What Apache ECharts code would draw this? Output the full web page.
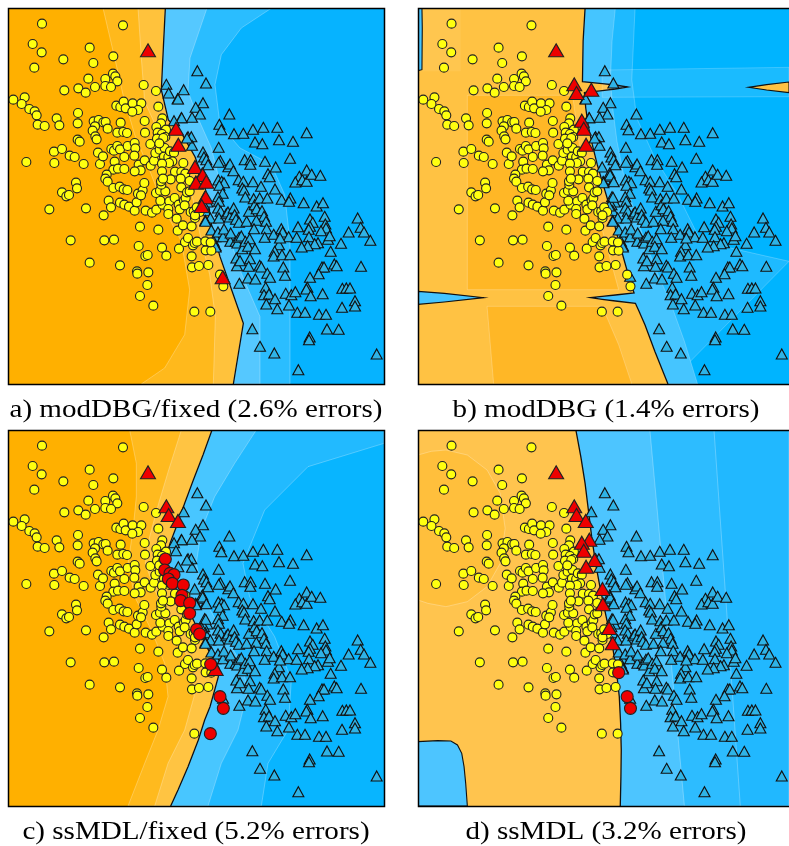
<!DOCTYPE html>
<html>
<head>
<meta charset="utf-8">
<script src="https://cdn.jsdelivr.net/npm/echarts/dist/echarts.min.js"></script>
<style>
html,body{margin:0;padding:0;background:#fff}
#chart{width:789px;height:846px}
</style>
</head>
<body>
<div id="chart"></div>
<script>
// ---------------- samples (feature space 0..1128, second feature grows downward) ----------------
const circles = [
[102,47],[345,52],[74,108],[101,133],[245,119],[166,154],[316,145],[79,179],[256,165],[315,197],[322,205],[241,212],[292,213],[328,220],[292,234],[309,237],[261,237],[211,241],[169,247],[233,254],[407,231],[444,249],
[16,275],[50,268],[41,288],[64,303],[80,310],[86,322],[146,331],[210,315],[154,352],[89,350],[110,354],[209,346],
[325,293],[337,297],[347,281],[353,301],[374,286],[400,286],[390,306],[373,311],[451,296],
[257,340],[272,336],[286,343],[293,342],[261,355],[299,362],[254,368],[262,385],[266,394],[338,344],[328,374],[346,372],[357,375],[410,339],[463,331],[459,346],[445,357],[411,374],[449,374],[474,365],[462,378],[472,387],
[209,395],[215,401],[138,431],[162,423],[185,443],[200,447],[139,465],[227,468],[55,462],[276,468],[270,434],[285,445],[310,423],[318,428],[328,414],[336,424],[359,414],[380,405],[382,421],[379,443],[349,447],[320,461],[316,485],[330,482],[349,483],[296,500],[292,512],[299,521],[392,470],[410,457],[398,487],[380,490],[428,473],[438,458],[427,408],[447,392],[466,390],[442,435],[455,425],[470,420],[468,446],[481,447],[486,430],[498,434],[493,460],[483,465],[462,467],[462,490],[501,491],[520,492],[526,465],[532,497],[488,514],[454,406],[518,512],
[204,524],[207,541],[162,553],[175,565],[183,561],[124,604],[234,601],[302,578],[309,598],[287,622],[316,540],[335,536],[347,544],[358,546],[336,584],[349,590],[363,596],[380,608],[386,583],[390,557],[404,547],[399,562],[409,525],[413,608],[432,614],[445,605],[464,590],[457,578],[444,555],[456,548],[472,550],[460,530],[459,520],[465,512],[484,580],[481,603],[481,618],[500,570],[506,632],[512,590],[515,604],[520,538],[528,578],[533,570],[530,592],[537,553],[545,550],[545,519],[548,612],[557,610],[561,630],[566,598],[575,612],[561,622],
[396,656],[451,665],[509,668],[525,652],[551,655],[188,697],[289,697],[318,695],[245,764],[336,772],[392,714],[412,744],[419,741],[462,719],[475,743],[513,722],[531,702],[540,690],[555,712],[560,705],[567,701],[551,745],[552,778],[573,774],[601,771],[593,727],[610,728],[592,700],[608,703],[387,790],[388,797],[421,793],[418,831],[396,864],[436,893],[559,911],[607,911],[636,800],[646,835]
];

const triangles = [
[568,188],[594,225],[509,272],[585,284],[563,298],[576,318],[552,328],[520,329],[664,318],[634,349],[640,365],[678,377],[706,376],[735,364],[766,358],[808,358],[896,374],[540,386],[550,386],[552,412],[632,418],[741,402],[763,407],[813,395],[855,400],
[585,432],[588,447],[595,455],[600,470],[637,458],[632,463],[661,476],[666,468],[676,488],[710,455],[728,455],[727,469],[771,460],[803,477],[846,451],
[560,477],[583,495],[593,520],[563,520],[585,505],[631,516],[641,520],[648,524],[634,532],[644,556],[692,515],[706,520],[735,521],[703,540],[708,546],[759,535],[801,543],[780,497],[785,506],[874,505],[862,522],[883,515],[896,486],[896,520],[911,499],[937,502],
[590,566],[598,582],[588,590],[592,608],[607,630],[592,637],[630,566],[633,580],[630,600],[638,610],[633,630],[655,617],[660,612],[665,627],[677,600],[680,620],[684,634],[693,643],[712,567],[716,640],[723,610],[737,572],[740,590],[746,602],[755,570],[762,608],[768,625],[774,640],[778,570],[745,637],[738,662],[776,662],[770,688],[797,679],[820,662],[824,672],[842,686],[821,574],[847,570],[843,580],[887,584],[926,594],[945,584],[906,633],[914,643],[950,625],[952,648],[954,660],[906,655],[902,664],[870,656],[866,688],[903,686],[939,668],[960,694],[965,683],[1022,672],[1049,630],[1058,658],[1068,672],[1087,697],[999,706],[930,704],[920,707],[899,713],[881,717],
[610,666],[622,686],[617,700],[623,713],[630,672],[645,686],[648,663],[667,700],[668,675],[683,700],[688,705],[693,688],[700,684],[703,722],[712,700],[725,692],[720,715],[741,722],[685,750],[687,773],[696,758],[726,752],[722,775],[755,772],[760,777],[813,710],[816,690],[800,730],[797,744],[822,740],[846,740],[968,730],[942,777],[948,777],[979,768],[986,773],[1059,775],[826,777],[932,797],[906,808],[778,796],[786,808],[831,802],[720,810],[742,813],[694,826],[773,838],[768,860],[783,858],[775,888],[801,872],[808,902],[833,856],[850,860],[862,851],[843,891],[898,838],[895,843],[908,863],[944,857],[1003,841],[1015,840],[1026,840],[1002,898],[1041,878],[1041,894],[868,913],[891,913],[933,919],[954,919],[733,962],[756,1015],[799,1035],[905,987],[903,995],[957,963],[992,964],[871,1085],[1106,1038],[645,805],
[420,127],[475,229],[482,255],[527,245],[510,273],[521,329],[498,338],[504,362],[537,390],[511,410],[584,501],[564,524],[595,521],[593,568],[581,594],[592,640],[623,717]
];

// misclassified samples per method
const errTriA  = [[420,127],[504,362],[511,410],[561,477],[584,501],[564,524],[595,521],[593,568],[581,594],[644,808]];
const errCircA = [];
const errTriB  = [[420,127],[475,229],[482,255],[527,245],[498,338],[504,362],[511,410]];
const errCircB = [];
const errTriC  = [[420,127],[475,229],[482,255],[510,273],[623,717]];
const errCircC = [[472,387],[470,420],[486,430],[498,434],[481,447],[493,460],[526,465],[522,496],[518,512],[545,519],[545,550],[566,598],[575,612],[608,703],[636,800],[646,835],[607,911]];
const errTriD  = [[420,127],[475,229],[482,255],[510,273],[521,329],[498,338],[504,362],[537,390],[511,410],[561,477],[562,523],[581,594],[592,640]];
const errCircD = [[610,728],[636,800],[646,835]];

const captions = [
  'a) modDBG/fixed (2.6% errors)',
  'b) modDBG (1.4% errors)',
  'c) ssMDL/fixed (5.2% errors)',
  'd) ssMDL (3.2% errors)'
];

// ---------------- decision regions and level curves ----------------
const FULL  = [[0,0],[1128,0],[1128,1128],[0,1128]];
const RIGHT = [[1128,0],[1128,1128]];

const boundaryA = [[472,0],[466,120],[460,246],[481,336],[521,376],[561,446],[586,516],[600,580],[612,660],[636,746],[671,846],[706,946],[676,1128]];
const aOrEdge1  = [[285,0],[320,150],[345,260],[380,380],[430,500],[470,606],[520,700],[545,846],[530,980],[470,1080],[400,1128]];
const aOrEdge2  = [[390,0],[400,150],[410,280],[455,380],[515,470],[552,560],[576,680],[605,800],[622,926],[616,1128]];
const aBlEdge1  = [[597,0],[546,150],[540,250],[570,330],[610,420],[635,520],[650,646],[700,796],[756,926],[756,1128]];
const aBlEdge2  = [[791,0],[700,60],[640,140],[621,230],[636,350],[696,420],[790,470],[830,560],[846,700],[846,1128]];

const boundaryB = [[508,0],[502,100],[500,221],[560,227],[600,231],[637,237],[600,243],[560,248],[506,254],[510,300],[518,356],[530,410],[545,470],[560,520],[575,570],[590,620],[605,680],[625,750],[645,820],[657,855],[600,861],[560,865],[525,869],[560,874],[600,879],[661,886],[672,910],[690,950],[720,1030],[760,1128]];
const bOrDark1  = [[150,262],[470,262],[492,420],[530,560],[570,700],[610,845],[150,845]];
const bOrDark2  = [[210,895],[560,895],[610,1010],[650,1128],[230,1128]];
const bOrLight  = [[0,0],[130,0],[130,190],[0,190]];
const bBlEdge1  = [[600,0],[590,100],[585,215],[592,300],[605,400],[625,500],[655,600],[690,700],[730,800],[770,890],[810,1000],[850,1128]];
const bBlEdge2  = [[660,0],[650,215],[665,330],[720,450],[790,560],[860,700],[1128,760]];
const bBlStreak = [[560,186],[1128,178],[1128,266],[560,268]];
const bLeftSpike = [[0,850],[80,856],[200,869],[80,882],[0,889]];
const bLeftStrip = [[0,0],[12,0],[13,60],[12,185],[0,188]];
const bRightSpike = [[1128,222],[1060,230],[1005,238],[1060,246],[1128,254]];

const boundaryC = [[612,0],[585,75],[556,150],[530,220],[505,290],[486,340],[474,385],[480,420],[500,470],[526,510],[546,550],[566,590],[596,650],[628,710],[631,740],[620,780],[606,830],[590,870],[571,930],[540,1010],[510,1080],[488,1128]];
const cOrEdge1  = [[365,0],[385,100],[385,200],[375,300],[360,400],[380,500],[430,600],[470,700],[480,800],[450,900],[410,1000],[360,1128]];
const cOrEdge2  = [[520,0],[482,120],[452,220],[425,320],[412,400],[440,480],[480,560],[520,640],[556,720],[558,800],[530,900],[480,1000],[440,1128]];
const cBlEdge1  = [[745,0],[680,100],[620,200],[580,300],[565,400],[585,500],[640,600],[700,700],[720,780],[690,900],[640,1000],[600,1128]];
const cBlEdge2  = [[1128,0],[1128,40],[900,110],[770,240],[705,400],[725,500],[800,620],[850,750],[840,900],[780,1000],[760,1128]];

const boundaryD = [[480,0],[495,80],[508,160],[518,240],[528,320],[540,400],[555,480],[572,560],[590,640],[603,720],[612,800],[616,880],[618,960],[617,1040],[615,1128]];
const dEllipse  = [[0,75],[40,64],[85,60],[150,75],[210,120],[250,190],[265,295],[250,400],[210,470],[150,515],[85,530],[30,520],[0,510]];
const dBlMid    = [[705,0],[1128,0],[1128,1128],[810,1128]];
const dBlDeep   = [[900,0],[1128,0],[1128,1128],[980,1128]];
const dBlob     = [[0,935],[60,932],[100,933],[120,945],[133,970],[140,1010],[145,1060],[150,1128],[0,1128]];

// ---------------- styling ----------------
const LEVEL = 'rgba(255,255,255,0.38)';
const EDGE = '#111';
function band(left, right) { return left.concat(right.slice().reverse()); }

const layersA = [
  {pts: FULL, fill: '#FFB000'},
  {pts: band(aOrEdge1, boundaryA), fill: '#FFB91C', stroke: LEVEL, lw: 0.7},
  {pts: band(aOrEdge2, boundaryA), fill: '#FFC23C', stroke: LEVEL, lw: 0.7},
  {pts: band(boundaryA, RIGHT), fill: '#06B3FF'},
  {pts: band(boundaryA, aBlEdge2), fill: '#2ABDFF', stroke: LEVEL, lw: 0.7},
  {pts: band(boundaryA, aBlEdge1), fill: '#55C8FF', stroke: LEVEL, lw: 0.7},
  {pts: boundaryA, line: true, stroke: EDGE, lw: 1.3}
];
const layersB = [
  {pts: FULL, fill: '#FFC243'},
  {pts: bOrLight, fill: '#FFC64F'},
  {pts: bOrDark1, fill: '#FFB726', stroke: LEVEL, lw: 0.6},
  {pts: bOrDark2, fill: '#FFB726', stroke: LEVEL, lw: 0.6},
  {pts: band(boundaryB, RIGHT), fill: '#00B4FF'},
  {pts: band(boundaryB, bBlEdge2), fill: '#1EBAFF', stroke: LEVEL, lw: 0.6},
  {pts: band(boundaryB, bBlEdge1), fill: '#45C5FF', stroke: LEVEL, lw: 0.6},
  {pts: bBlStreak, fill: 'rgba(255,255,255,0.10)', stroke: LEVEL, lw: 0.5},
  {pts: bRightSpike, fill: '#FFC243', stroke: EDGE, lw: 1.1},
  {pts: bLeftSpike, fill: '#45C5FF', stroke: EDGE, lw: 1.1},
  {pts: bLeftStrip, fill: '#45C5FF', stroke: EDGE, lw: 1.1},
  {pts: boundaryB, line: true, stroke: EDGE, lw: 1.3}
];
const layersC = [
  {pts: FULL, fill: '#FFB000'},
  {pts: band(cOrEdge1, boundaryC), fill: '#FFBA1E', stroke: LEVEL, lw: 0.7},
  {pts: band(cOrEdge2, boundaryC), fill: '#FFC442', stroke: LEVEL, lw: 0.7},
  {pts: band(boundaryC, RIGHT), fill: '#08B5FF'},
  {pts: band(boundaryC, cBlEdge2), fill: '#22BAFF', stroke: LEVEL, lw: 0.7},
  {pts: band(boundaryC, cBlEdge1), fill: '#48C6FF', stroke: LEVEL, lw: 0.7},
  {pts: boundaryC, line: true, stroke: EDGE, lw: 1.3}
];
const layersD = [
  {pts: FULL, fill: '#FFC44E'},
  {pts: dEllipse, fill: '#FFBF3C', stroke: LEVEL, lw: 0.7},
  {pts: band(boundaryD, RIGHT), fill: '#4DC5FF'},
  {pts: dBlMid, fill: '#2DBCFF', stroke: LEVEL, lw: 0.7},
  {pts: dBlDeep, fill: '#21B8FF', stroke: LEVEL, lw: 0.7},
  {pts: dBlob, fill: '#4DC5FF', stroke: EDGE, lw: 1.1},
  {pts: boundaryD, line: true, stroke: EDGE, lw: 1.3}
];

const panels = [
  {left: 8,   top: 8,   layers: layersA, errTri: errTriA, errCirc: errCircA},
  {left: 418, top: 8,   layers: layersB, errTri: errTriB, errCirc: errCircB},
  {left: 8,   top: 430, layers: layersC, errTri: errTriC, errCirc: errCircC},
  {left: 418, top: 430, layers: layersD, errTri: errTriD, errCirc: errCircD}
];
const SIDE = 376;

function regionRenderer(layers) {
  return function (params, api) {
    const L = layers[params.dataIndex];
    const pts = L.pts.map(function (p) { return api.coord(p); });
    if (L.line) {
      return {type: 'polyline', shape: {points: pts}, style: {fill: null, stroke: L.stroke, lineWidth: L.lw}};
    }
    return {type: 'polygon', shape: {points: pts},
      style: {fill: L.fill, stroke: L.stroke || null, lineWidth: L.lw || 0}};
  };
}

const grids = [], xAxes = [], yAxes = [], series = [], graphics = [];
panels.forEach(function (p, i) {
  grids.push({left: p.left, top: p.top, width: SIDE, height: SIDE, show: false});
  xAxes.push({gridIndex: i, type: 'value', min: 0, max: 1128, show: false});
  yAxes.push({gridIndex: i, type: 'value', min: 0, max: 1128, inverse: true, show: false});
  series.push({
    type: 'custom', xAxisIndex: i, yAxisIndex: i, clip: true, silent: true, z: 1,
    renderItem: regionRenderer(p.layers),
    data: p.layers.map(function (_, k) { return [k, 0]; })
  });
  series.push({
    type: 'scatter', xAxisIndex: i, yAxisIndex: i, z: 3, silent: true,
    symbol: 'triangle', symbolSize: [11, 10], data: triangles,
    itemStyle: {color: '#2FB3E6', borderColor: '#111', borderWidth: 1.1, opacity: 1}
  });
  series.push({
    type: 'scatter', xAxisIndex: i, yAxisIndex: i, z: 4, silent: true,
    symbol: 'circle', symbolSize: 9, data: circles,
    itemStyle: {color: '#FFFF10', borderColor: '#222', borderWidth: 1.1, opacity: 1}
  });
  series.push({
    type: 'scatter', xAxisIndex: i, yAxisIndex: i, z: 5, silent: true,
    symbol: 'triangle', symbolSize: [15, 13], data: p.errTri,
    itemStyle: {color: '#EE0000', borderColor: '#222', borderWidth: 1.1, opacity: 1}
  });
  series.push({
    type: 'scatter', xAxisIndex: i, yAxisIndex: i, z: 5, silent: true,
    symbol: 'circle', symbolSize: 12, data: p.errCirc,
    itemStyle: {color: '#EE0000', borderColor: '#222', borderWidth: 1.1, opacity: 1}
  });
  graphics.push({
    type: 'rect', z: 100, silent: true,
    shape: {x: p.left + 0.5, y: p.top + 0.5, width: SIDE, height: SIDE},
    style: {fill: null, stroke: '#000', lineWidth: 1.5}
  });
});

// captions, stretched to the width of the typeset originals
const FONT = '26px "Liberation Serif", "DejaVu Serif", serif';
const ctx = document.createElement('canvas').getContext('2d');
ctx.font = FONT;
const stretch = 373 / ctx.measureText(captions[0]).width;
const capPos = [[196, 410], [606, 410], [196, 832], [606, 832]];
captions.forEach(function (t, i) {
  graphics.push({
    type: 'text', x: capPos[i][0], y: capPos[i][1], scaleX: stretch, z: 100, silent: true,
    style: {text: t, font: FONT, fill: '#000', textAlign: 'center', textVerticalAlign: 'middle'}
  });
});

const chart = echarts.init(document.getElementById('chart'), null, {renderer: 'canvas'});
chart.setOption({
  animation: false,
  backgroundColor: '#fff',
  grid: grids, xAxis: xAxes, yAxis: yAxes,
  series: series,
  graphic: graphics
});
</script>
</body>
</html>
